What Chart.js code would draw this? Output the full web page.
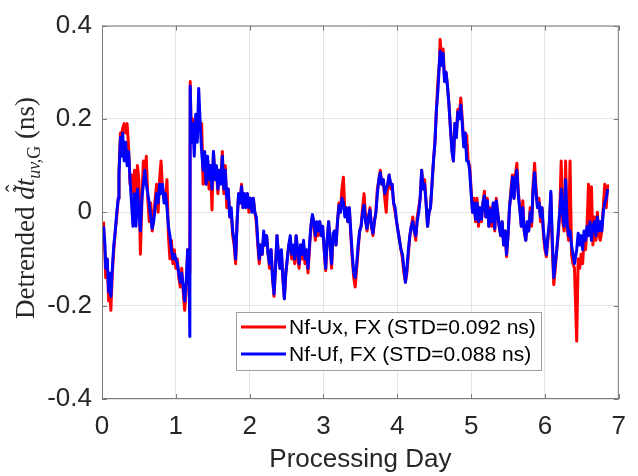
<!DOCTYPE html>
<html>
<head>
<meta charset="utf-8">
<script src="https://cdn.jsdelivr.net/npm/chart.js@4.4.1/dist/chart.umd.min.js"></script>
<style>
  html, body { margin: 0; padding: 0; background: #fff; }
  #wrap { width: 638px; height: 476px; }
</style>
</head>
<body>
<div id="wrap"><canvas id="chart" width="638" height="476"></canvas></div>
<script>
// processing day of each sample
const days = [
  0.02,0.04,0.05,0.07,0.09,0.10,0.12,0.14,0.16,0.18,
  0.20,0.22,0.23,0.25,0.26,0.28,0.30,0.32,0.34,0.36,
  0.38,0.40,0.42,0.44,0.46,0.48,0.50,0.52,0.54,0.56,
  0.58,0.60,0.62,0.64,0.66,0.68,0.70,0.72,0.74,0.76,
  0.78,0.80,0.82,0.84,0.86,0.88,0.90,0.92,0.94,0.96,
  0.98,1.00,1.02,1.04,1.06,1.08,1.10,1.12,1.14,1.16,
  1.18,1.19,1.195,1.21,1.23,1.25,1.27,1.29,1.31,1.33,
  1.35,1.37,1.39,1.41,1.43,1.45,1.47,1.49,1.51,1.53,
  1.55,1.57,1.59,1.61,1.63,1.65,1.67,1.69,1.71,1.73,
  1.75,1.77,1.79,1.81,1.83,1.85,1.87,1.89,1.91,1.93,
  1.95,1.97,1.99,2.01,2.03,2.05,2.07,2.09,2.11,2.13,
  2.15,2.17,2.19,2.21,2.23,2.25,2.27,2.29,2.31,2.33,
  2.35,2.37,2.39,2.41,2.43,2.45,2.47,2.49,2.51,2.53,
  2.55,2.57,2.59,2.61,2.63,2.65,2.67,2.69,2.71,2.73,
  2.75,2.77,2.79,2.81,2.83,2.85,2.87,2.89,2.91,2.93,
  2.95,2.97,2.99,3.01,3.03,3.05,3.07,3.09,3.11,3.13,
  3.15,3.17,3.19,3.21,3.23,3.25,3.27,3.29,3.31,3.33,
  3.35,3.37,3.39,3.41,3.43,3.45,3.47,3.49,3.51,3.53,
  3.55,3.57,3.59,3.61,3.63,3.65,3.67,3.69,3.71,3.73,
  3.75,3.77,3.79,3.81,3.83,3.85,3.87,3.89,3.91,3.93,
  3.95,3.97,3.99,4.01,4.03,4.05,4.07,4.09,4.11,4.13,
  4.15,4.17,4.19,4.21,4.23,4.25,4.27,4.29,4.31,4.33,
  4.35,4.37,4.39,4.41,4.43,4.45,4.47,4.49,4.51,4.53,
  4.55,4.57,4.58,4.60,4.62,4.64,4.66,4.68,4.70,4.72,
  4.74,4.76,4.78,4.80,4.82,4.84,4.86,4.88,4.90,4.92,
  4.94,4.96,4.98,5.00,5.02,5.04,5.06,5.08,5.10,5.12,
  5.14,5.16,5.18,5.20,5.22,5.24,5.26,5.28,5.30,5.32,
  5.34,5.36,5.38,5.40,5.42,5.44,5.46,5.48,5.50,5.52,
  5.54,5.56,5.58,5.60,5.62,5.64,5.66,5.68,5.70,5.72,
  5.74,5.76,5.78,5.80,5.82,5.84,5.86,5.88,5.90,5.92,
  5.94,5.96,5.98,6.00,6.02,6.04,6.06,6.08,6.10,6.12,
  6.14,6.16,6.18,6.20,6.22,6.24,6.26,6.28,6.30,6.32,
  6.34,6.36,6.38,6.40,6.43,6.45,6.47,6.49,6.51,6.53,
  6.55,6.57,6.59,6.61,6.63,6.65,6.67,6.69,6.71,6.73,
  6.75,6.77,6.79,6.81,6.83,6.85
];

// Nf-Ux, FX (red)
const nfUx = [
  -0.02,-0.09,-0.14,-0.10,-0.19,-0.15,-0.21,-0.13,-0.08,-0.04,
  -0.01,0.03,0.09,0.17,0.16,0.18,0.19,0.17,0.19,0.14,
  0.06,0.08,0.04,0.09,0.02,0.10,0.07,-0.09,0.02,0.11,
  0.08,0.12,0.03,-0.02,0.02,-0.04,-0.01,0.03,0.06,0.00,
  0.07,0.11,0.05,0.04,0.02,0.07,-0.05,-0.10,-0.06,-0.11,
  -0.08,-0.12,-0.10,-0.14,-0.16,-0.12,-0.17,-0.21,-0.17,-0.08,
  -0.13,-0.10,0.28,0.15,0.20,0.19,0.19,0.16,0.20,0.18,
  0.19,0.06,0.13,0.06,0.11,0.05,0.10,0.005,0.13,0.07,
  0.09,0.04,0.09,0.07,0.13,0.04,0.10,0.01,0.05,-0.01,
  0.00,-0.05,-0.07,-0.11,-0.02,0.04,0.02,0.06,0.01,0.04,
  0.02,0.04,0.00,0.03,0.01,0.03,0.00,-0.02,-0.07,-0.11,
  -0.07,-0.09,-0.05,-0.07,-0.05,-0.09,-0.12,-0.08,-0.14,-0.18,
  -0.12,-0.05,-0.09,-0.12,-0.09,-0.14,-0.185,-0.13,-0.10,-0.07,
  -0.06,-0.10,-0.08,-0.11,-0.05,-0.10,-0.12,-0.07,-0.10,-0.07,
  -0.11,-0.09,-0.13,-0.08,-0.03,-0.01,-0.03,-0.06,-0.03,-0.05,
  -0.02,-0.05,-0.04,-0.08,-0.125,-0.06,-0.02,-0.07,-0.12,-0.05,
  -0.04,-0.07,-0.02,0.02,0.00,0.05,0.075,0.00,0.01,-0.02,
  0.01,-0.05,-0.10,-0.14,-0.16,-0.12,-0.08,-0.04,-0.03,0.01,
  0.04,-0.01,-0.04,-0.01,0.01,-0.03,-0.05,-0.02,0.00,0.05,
  0.07,0.09,0.06,0.07,0.03,0.00,0.06,0.08,0.05,0.06,
  0.02,0.00,-0.02,-0.04,-0.06,-0.08,-0.10,-0.13,-0.15,-0.13,
  -0.09,-0.05,-0.03,-0.01,-0.04,-0.06,-0.01,0.01,0.03,0.09,
  0.05,0.07,0.02,-0.03,0.00,0.01,0.06,0.11,0.15,0.22,
  0.28,0.32,0.37,0.33,0.35,0.29,0.30,0.27,0.23,0.18,
  0.14,0.11,0.19,0.17,0.22,0.21,0.245,0.20,0.15,0.17,
  0.165,0.11,0.10,0.05,0.00,0.03,-0.02,0.03,-0.03,0.01,
  -0.02,0.02,0.045,-0.01,0.03,-0.03,0.01,-0.03,0.02,-0.04,
  0.03,0.00,-0.03,-0.05,-0.02,-0.07,-0.04,-0.095,-0.05,0.01,
  0.05,0.08,0.03,0.08,0.105,0.04,0.01,-0.03,0.025,-0.04,
  -0.06,-0.03,-0.04,0.01,-0.03,0.06,0.105,0.05,0.01,0.03,
  -0.02,0.01,-0.05,-0.08,-0.095,-0.06,-0.03,0.04,-0.08,-0.155,
  -0.12,-0.08,-0.05,0.00,0.11,-0.02,-0.04,0.11,-0.03,-0.06,
  0.11,-0.09,-0.11,-0.12,-0.276,-0.10,-0.12,-0.09,-0.11,-0.06,
  -0.08,-0.03,0.06,-0.04,0.055,-0.07,-0.01,-0.06,0.00,-0.05,
  -0.06,-0.04,0.01,0.06,0.01,0.06
];

// Nf-Uf, FX (blue)
const nfUf = [
  -0.03,-0.07,-0.12,-0.10,-0.17,-0.13,-0.18,-0.12,-0.07,-0.04,
  0.00,0.03,0.08,0.16,0.12,0.17,0.11,0.15,0.10,0.13,
  0.07,0.02,-0.03,0.04,-0.03,0.05,0.00,-0.04,0.03,0.06,
  0.09,0.06,0.04,0.02,-0.01,-0.035,-0.02,0.01,0.04,0.02,
  0.06,0.04,0.06,0.02,0.04,0.01,-0.03,-0.05,-0.08,-0.10,
  -0.09,-0.10,-0.11,-0.13,-0.15,-0.13,-0.16,-0.19,-0.15,-0.08,
  -0.13,-0.266,0.27,0.15,0.19,0.12,0.21,0.15,0.265,0.19,
  0.13,0.09,0.13,0.06,0.12,0.07,0.10,0.05,0.13,0.07,
  0.10,0.05,0.09,0.06,0.12,0.05,0.09,0.03,0.05,-0.01,
  0.01,-0.04,-0.06,-0.10,-0.02,0.04,0.02,0.055,0.01,0.04,
  0.01,0.04,0.01,0.03,0.00,0.03,0.00,-0.01,-0.06,-0.10,
  -0.07,-0.09,-0.04,-0.07,-0.05,-0.09,-0.11,-0.08,-0.14,-0.175,
  -0.12,-0.05,-0.09,-0.12,-0.08,-0.14,-0.185,-0.13,-0.10,-0.07,
  -0.05,-0.09,-0.07,-0.10,-0.05,-0.08,-0.11,-0.07,-0.09,-0.06,
  -0.10,-0.08,-0.12,-0.07,-0.03,-0.005,-0.02,-0.05,-0.02,-0.04,
  -0.02,-0.05,-0.03,-0.08,-0.12,-0.06,-0.02,-0.07,-0.11,-0.045,
  -0.04,-0.07,-0.02,0.015,0.00,0.03,0.02,-0.01,0.01,-0.02,
  0.01,-0.04,-0.09,-0.13,-0.14,-0.11,-0.07,-0.04,-0.03,0.00,
  0.015,-0.02,-0.035,-0.01,0.005,-0.03,-0.045,-0.02,0.00,0.04,
  0.07,0.085,0.06,0.07,0.04,0.05,0.06,0.08,0.06,0.06,
  0.02,0.01,-0.02,-0.04,-0.06,-0.08,-0.09,-0.12,-0.15,-0.12,
  -0.08,-0.05,-0.03,-0.02,-0.04,-0.05,-0.02,0.00,0.03,0.09,
  0.05,0.06,0.02,-0.03,0.00,0.01,0.06,0.11,0.15,0.22,
  0.26,0.32,0.345,0.315,0.34,0.28,0.30,0.27,0.23,0.18,
  0.13,0.11,0.19,0.16,0.215,0.20,0.23,0.19,0.14,0.17,
  0.11,0.11,0.09,0.04,0.00,0.02,-0.015,0.02,-0.02,0.01,
  -0.015,0.02,0.035,-0.01,0.025,-0.03,0.005,-0.02,0.02,-0.035,
  0.025,0.00,-0.03,-0.05,-0.02,-0.07,-0.04,-0.09,-0.05,0.01,
  0.04,0.075,0.03,0.07,0.09,0.035,0.005,-0.03,0.01,-0.04,
  -0.06,-0.02,-0.04,0.00,-0.02,0.05,0.085,0.04,0.01,0.02,
  -0.01,0.01,-0.04,-0.07,-0.09,-0.05,-0.02,0.045,-0.06,-0.14,
  -0.11,-0.08,-0.04,0.00,0.05,0.00,-0.03,0.07,-0.02,-0.05,
  -0.04,-0.07,-0.09,-0.11,-0.08,-0.045,-0.07,-0.05,-0.08,-0.04,
  -0.06,-0.03,-0.05,-0.02,-0.06,-0.03,-0.02,-0.05,-0.01,-0.04,
  -0.02,-0.04,0.00,0.02,0.03,0.05
];

const seriesNames = ['Nf-Ux, FX (STD=0.092 ns)', 'Nf-Uf, FX (STD=0.088 ns)'];
const xTickLabels = ['0', '1', '2', '3', '4', '5', '6', '7'];
const yTickLabels = ['-0.4', '-0.2', '0', '0.2', '0.4'];

const sans = '"Liberation Sans", Arial, Helvetica, sans-serif';
const serif = '"Liberation Serif", "Times New Roman", serif';
const axisGrey = '#7a7a7a';
const textGrey = '#262626';

function points(vals) {
  return days.map((d, i) => ({ x: d, y: vals[i] }));
}

// box around the axes with inward ticks, like matlab "box on"
const frame = {
  id: 'frame',
  afterDatasetsDraw(chart) {
    const { ctx, chartArea: a, scales } = chart;
    ctx.save();
    ctx.strokeStyle = axisGrey;
    ctx.lineWidth = 1;
    ctx.strokeRect(a.left + 0.5, a.top + 0.5, a.right - a.left - 1, a.bottom - a.top - 1);
    ctx.beginPath();
    scales.x.ticks.forEach(t => {
      const x = Math.round(scales.x.getPixelForValue(t.value)) + 0.5;
      ctx.moveTo(x, a.bottom); ctx.lineTo(x, a.bottom - 5);
      ctx.moveTo(x, a.top); ctx.lineTo(x, a.top + 5);
    });
    scales.y.ticks.forEach(t => {
      const y = Math.round(scales.y.getPixelForValue(t.value)) + 0.5;
      ctx.moveTo(a.left, y); ctx.lineTo(a.left + 5, y);
      ctx.moveTo(a.right, y); ctx.lineTo(a.right - 5, y);
    });
    ctx.stroke();
    ctx.restore();
  }
};

// legend box in the lower middle of the axes
const legendBox = {
  id: 'legendBox',
  afterDraw(chart) {
    const ctx = chart.ctx;
    const x0 = 236, y0 = 312, w = 305, h = 58;
    ctx.save();
    ctx.fillStyle = '#fff';
    ctx.fillRect(x0, y0, w, h);
    ctx.strokeStyle = '#a0a0a0';
    ctx.lineWidth = 1;
    ctx.strokeRect(x0 + 0.5, y0 + 0.5, w, h);
    ctx.font = '21px ' + sans;
    ctx.textBaseline = 'middle';
    chart.data.datasets.forEach((ds, i) => {
      const y = y0 + 15 + i * 27;
      ctx.strokeStyle = ds.borderColor;
      ctx.lineWidth = 3;
      ctx.beginPath();
      ctx.moveTo(x0 + 5, y); ctx.lineTo(x0 + 50, y);
      ctx.stroke();
      ctx.fillStyle = '#000';
      ctx.fillText(ds.label, x0 + 53, y + 1);
    });
    ctx.restore();
  }
};

// latex-like y label
const yTitle = {
  id: 'yTitle',
  afterDraw(chart) {
    const ctx = chart.ctx;
    const pieces = [
      { text: 'Detrended ', font: '27px ' + serif, dy: 0 },
      { text: 'dt', font: 'italic 27px ' + serif, dy: 0, accent: true },
      { text: 'uv,', font: 'italic 18px ' + serif, dy: 6 },
      { text: 'G', font: '18px ' + serif, dy: 6 },
      { text: ' (ns)', font: '27px ' + serif, dy: 0 }
    ];
    ctx.save();
    let total = 0;
    pieces.forEach(p => { ctx.font = p.font; p.w = ctx.measureText(p.text).width; total += p.w; });
    ctx.translate(34, 208);
    ctx.rotate(-Math.PI / 2);
    ctx.fillStyle = textGrey;
    ctx.textBaseline = 'alphabetic';
    let x = -total / 2;
    pieces.forEach(p => {
      ctx.font = p.font;
      ctx.textAlign = 'left';
      ctx.fillText(p.text, x, p.dy);
      if (p.accent) {
        ctx.font = '23px ' + serif;
        ctx.textAlign = 'center';
        ctx.fillText('\u02DC', x + p.w / 2 + 1, -5);
        ctx.fillText('\u02C6', x + p.w / 2 + 1, -12);
      }
      x += p.w;
    });
    ctx.restore();
  }
};

new Chart(document.getElementById('chart').getContext('2d'), {
  type: 'line',
  data: {
    datasets: [
      {
        label: seriesNames[0],
        data: points(nfUx),
        borderColor: '#ff0000',
        borderWidth: 3,
        pointRadius: 0,
        tension: 0,
        borderJoinStyle: 'round',
        order: 2
      },
      {
        label: seriesNames[1],
        data: points(nfUf),
        borderColor: '#0000ff',
        borderWidth: 3,
        pointRadius: 0,
        tension: 0,
        borderJoinStyle: 'round',
        order: 1
      }
    ]
  },
  options: {
    responsive: false,
    animation: false,
    layout: { padding: { left: 0, top: 21, right: 7, bottom: 0 } },
    plugins: {
      legend: { display: false },
      tooltip: { enabled: false }
    },
    scales: {
      x: {
        type: 'linear',
        min: 0,
        max: 7,
        afterFit: s => { s.height = 77; },
        border: { display: false },
        grid: { color: '#e4e4e4', drawTicks: false },
        ticks: {
          stepSize: 1,
          padding: 12,
          color: textGrey,
          font: { family: sans, size: 26 },
          callback: v => xTickLabels[Math.round(v)]
        },
        title: {
          display: true,
          text: 'Processing Day',
          color: textGrey,
          font: { family: sans, size: 26 },
          padding: { top: 0, bottom: 1 }
        }
      },
      y: {
        min: -0.4,
        max: 0.4,
        afterFit: s => { s.width = 102; },
        border: { display: false },
        grid: { color: '#e4e4e4', drawTicks: false },
        ticks: {
          stepSize: 0.2,
          padding: 10,
          color: textGrey,
          font: { family: sans, size: 26 },
          callback: v => yTickLabels[Math.round((v + 0.4) / 0.2)]
        }
      }
    }
  },
  plugins: [frame, legendBox, yTitle]
});
</script>
</body>
</html>
